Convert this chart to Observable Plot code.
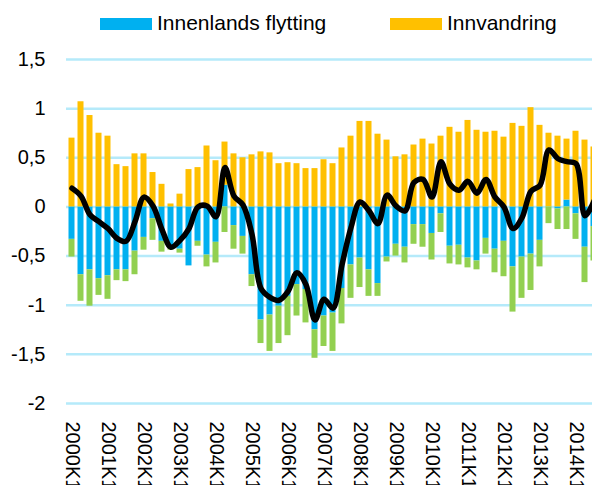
<!DOCTYPE html>
<html>
<head>
<meta charset="utf-8">
<script src="https://cdn.jsdelivr.net/npm/d3@7"></script>
<script src="https://cdn.jsdelivr.net/npm/@observablehq/plot@0.6"></script>
<style>
  body { margin: 0; background: #fff; }
  #wrap { width: 592px; height: 485px; overflow: hidden; font-family: "Liberation Sans", Arial, sans-serif; }
  #legend { position: relative; height: 40px; font-size: 21px; color: #000; }
  #legend .sw { position: absolute; top: 18px; width: 52px; height: 12px; }
  #legend .lb { position: absolute; top: 11px; line-height: 24px; white-space: nowrap; }
</style>
</head>
<body>
<div id="wrap">
  <div id="legend"></div>
  <div id="chart"></div>
</div>
<script>
const quarters = [];
for (let y = 2000; y <= 2014; y++) for (let k = 1; k <= 4; k++) quarters.push(`${y}K${k}`);
quarters.splice(59); // 2000K1 .. 2014K3

const seriesNames = ["Innenlands flytting", "Innvandring", "Utvandring"];
const seriesColors = ["#00B0F0", "#FFC000", "#92D050"];
const legendNames = ["Innenlands flytting", "Innvandring"];

const innenlands = [
  -0.33, -0.69, -0.64, -0.73, -0.70, -0.64, -0.64, -0.45,
  -0.31, -0.12, -0.35, -0.40, -0.43, -0.60, -0.35, -0.49,
  -0.36, 0.22, -0.19, -0.30, -0.69, -1.15, -1.10, -1.01,
  -0.91, -0.79, -0.84, -1.25, -1.11, -1.08, -0.83, -0.59,
  -0.52, -0.64, -0.78, -0.51, -0.38, -0.41, -0.18, -0.18,
  -0.27, -0.07, -0.40, -0.39, -0.52, -0.55, -0.32, -0.43,
  -0.35, -0.61, -0.51, -0.48, -0.34, 0.00, -0.02, 0.07,
  -0.07, -0.41, -0.20
];
const innvandring = [
  0.70, 1.07, 0.93, 0.75, 0.72, 0.43, 0.41, 0.54,
  0.54, 0.35, 0.23, 0.03, 0.13, 0.38, 0.40, 0.62,
  0.47, 0.44, 0.54, 0.50, 0.53, 0.56, 0.55, 0.44,
  0.45, 0.44, 0.39, 0.39, 0.48, 0.44, 0.60, 0.72,
  0.87, 0.87, 0.74, 0.68, 0.51, 0.53, 0.63, 0.69,
  0.64, 0.72, 0.81, 0.76, 0.88, 0.78, 0.76, 0.77,
  0.71, 0.85, 0.82, 1.01, 0.83, 0.75, 0.72, 0.62,
  0.77, 0.68, 0.61
];
const utvandring = [
  -0.18, -0.27, -0.37, -0.17, -0.24, -0.11, -0.12, -0.24,
  -0.13, -0.22, -0.11, -0.04, -0.04, 0.00, -0.05, -0.12,
  -0.21, -0.26, -0.24, -0.18, -0.12, -0.24, -0.37, -0.38,
  -0.40, -0.32, -0.34, -0.29, -0.31, -0.39, -0.36, -0.34,
  -0.30, -0.27, -0.13, -0.05, -0.12, -0.16, -0.20, -0.23,
  -0.27, -0.19, -0.18, -0.20, -0.10, -0.09, -0.16, -0.24,
  -0.36, -0.46, -0.42, -0.37, -0.27, -0.17, -0.21, -0.23,
  -0.26, -0.36, -0.35
];
const yTicks = [-2, -1.5, -1, -0.5, 0, 0.5, 1, 1.5];
const xTickLabels = quarters.filter(q => q.endsWith("K1"));

// table built from the arrays
const rows = [];
quarters.forEach((q, i) => {
  rows.push({q, serie: seriesNames[0], value: innenlands[i]});
  rows.push({q, serie: seriesNames[1], value: innvandring[i]});
  rows.push({q, serie: seriesNames[2], value: utvandring[i]});
});
const totals = quarters.map((q, i) => ({q, total: innenlands[i] + innvandring[i] + utvandring[i]}));

// legend
const legend = document.getElementById("legend");
const legendPos = [[100, 157], [390, 447]];
legendNames.forEach((name, i) => {
  const sw = document.createElement("span");
  sw.className = "sw";
  sw.style.left = legendPos[i][0] + "px";
  sw.style.background = seriesColors[seriesNames.indexOf(name)];
  legend.appendChild(sw);
  const lb = document.createElement("span");
  lb.className = "lb";
  lb.style.left = legendPos[i][1] + "px";
  lb.textContent = name;
  legend.appendChild(lb);
});

const fmt = d => String(d).replace(".", ",");
const step = 9.03;
const left = 66;

const chart = Plot.plot({
  width: 592,
  height: 445,
  marginLeft: left,
  marginRight: 0,
  marginTop: 19,
  marginBottom: 82,
  style: {fontFamily: "'Liberation Sans', Arial, sans-serif", fontSize: "20px", color: "#000", background: "#fff"},
  x: {type: "band", domain: quarters, range: [left, left + quarters.length * step], padding: 0, axis: null},
  y: {domain: [-2, 1.5], axis: null},
  color: {domain: seriesNames, range: seriesColors},
  marks: [
    Plot.ruleY(yTicks, {stroke: "#b5eafa", strokeWidth: 2.5}),
    Plot.barY(rows, {x: "q", y: "value", fill: "serie", insetLeft: 1.5, insetRight: 1.5}),
    Plot.line(totals, {x: "q", y: "total", stroke: "#000", strokeWidth: 5.5, curve: "catmull-rom", strokeLinejoin: "round"}),
    Plot.axisY({ticks: yTicks, tickFormat: fmt, tickSize: 0, tickPadding: 21, fontSize: 20}),
    Plot.text(xTickLabels, {x: d => d, text: d => d, frameAnchor: "bottom", dy: 18, rotate: 90, textAnchor: "start", lineAnchor: "middle", fontSize: 20, fill: "#000"})
  ]
});
document.getElementById("chart").appendChild(chart);
</script>
</body>
</html>
